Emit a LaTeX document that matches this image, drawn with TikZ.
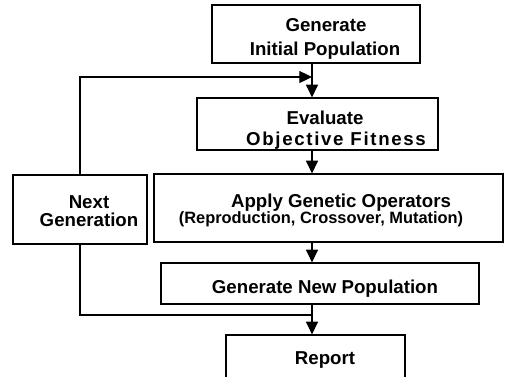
\documentclass[tikz,border=0pt]{standalone}
\usepackage{fontspec}
\setmainfont{Liberation Sans}
\newfontfamily\gafont{Liberation Sans Bold}
\newfontfamily\gawide{Liberation Sans Bold}[LetterSpace=9]
\usetikzlibrary{arrows.meta}
\begin{document}
\begin{tikzpicture}[x=0.75pt,y=-0.75pt,
  box/.style={draw, line width=0.9pt, inner sep=0pt, rectangle},
  txt/.style={anchor=base, inner sep=0pt, font=\gafont\fontsize{14pt}{17pt}\selectfont},
  widetxt/.style={anchor=base, inner sep=0pt, font=\gawide\fontsize{14pt}{17pt}\selectfont},
  small/.style={anchor=base, inner sep=0pt, font=\gafont\fontsize{12.3pt}{15pt}\selectfont},
  flow/.style={line width=0.9pt},
  arr/.style={line width=0.9pt, -{Triangle[length=9.5pt,width=9pt]}}]
\useasboundingbox (0,0) rectangle (513,376);
\clip (0,0) rectangle (513,376);
% boxes
\node[box, minimum width=156pt, minimum height=43.5pt] (b1) at (316,34) {};
\node[box, minimum width=180.75pt, minimum height=39pt] (b2) at (317.5,124) {};
\node[box, minimum width=100.5pt, minimum height=51.75pt] (nx) at (80,209.5) {};
\node[box, minimum width=261.75pt, minimum height=51pt] (b3) at (328.5,208) {};
\node[box, minimum width=238.5pt, minimum height=30.75pt] (b4) at (320,283.5) {};
\node[box, minimum width=134.25pt, minimum height=48.75pt] (b5) at (315.5,367.5) {};
% texts
\node[txt] (t1a) at (326,31.5) {Generate};
\node[txt] (t1b) at (325,55) {Initial Population};
\node[txt] (t2a) at (325,124) {Evaluate};
\node[widetxt] (t2b) at (336,145) {Objective Fitness};
\node[txt] (tna) at (89,208) {Next};
\node[txt] (tnb) at (89,226) {Generation};
\node[txt] (t3a) at (341,207) {Apply Genetic Operators};
\node[small] (t3b) at (321,223) {(Reproduction, Crossover, Mutation)};
\node[txt] (t4) at (325,293) {Generate New Population};
\node[txt] (t5) at (325,364) {Report};
% main axis
\coordinate (mx) at (312,0);
\coordinate (fb) at (312,77);
\coordinate (fl) at (80,77);
\coordinate (jb) at (312,315);
\coordinate (jl) at (80,315);
% connectors
\draw[arr] (b1.south -| mx) -- (b2.north -| mx);
\draw[arr] (nx.north) -- (fl) -- (fb);
\draw[arr] (b2.south -| mx) -- (b3.north -| mx);
\draw[arr] (b3.south -| mx) -- (b4.north -| mx);
\draw[arr] (b4.south -| mx) -- (b5.north -| mx);
\draw[flow] (nx.south) -- (jl) -- (jb);
\end{tikzpicture}
\end{document}
